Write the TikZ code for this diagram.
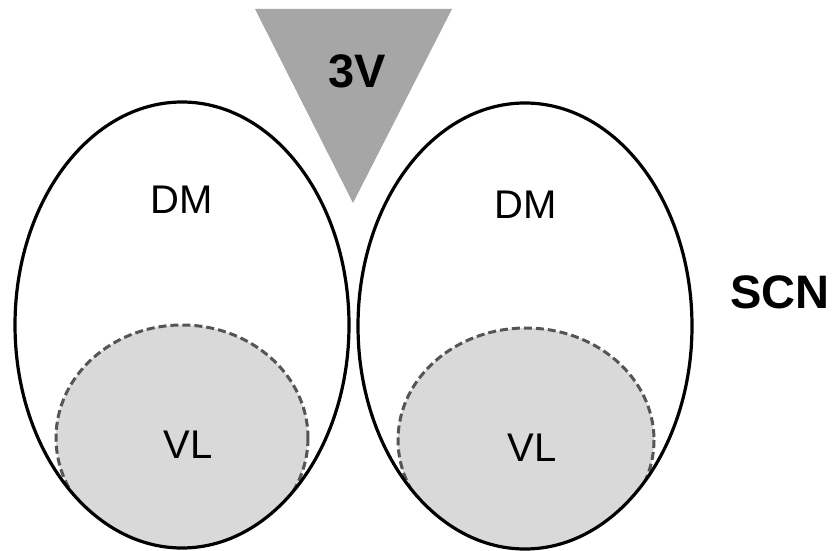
\documentclass[tikz,border=0pt]{standalone}
\usepackage{fontspec}
\setmainfont{Liberation Sans}
\definecolor{ventricle}{HTML}{A6A6A6}
\definecolor{vlfill}{HTML}{D9D9D9}
\definecolor{vledge}{HTML}{555555}
\begin{document}
\begin{tikzpicture}[x=1pt,y=-1pt,
  outline/.style={line width=3.2pt,black},
  core/.style={line width=3pt,vledge,dash pattern=on 8pt off 4pt},
  region/.style={font=\fontsize{40}{44}\selectfont,inner sep=0pt},
  heading/.style={font=\bfseries\fontsize{47}{50}\selectfont,inner sep=0pt}]
\useasboundingbox (0,0) rectangle (832,551);
% third ventricle
\fill[ventricle] (255,9) -- (452,9) -- (353,203) -- cycle;
\node[heading] (v3) at (357,71) {3V};
% left nucleus: ventrolateral core clipped to the shell
\begin{scope}
  \clip (182,325) ellipse [x radius=167, y radius=223];
  \fill[vlfill] (182,438) ellipse [x radius=126, y radius=113];
  \draw[core] (182,438) ellipse [x radius=126, y radius=113];
\end{scope}
\draw[outline] (182,325) ellipse [x radius=167, y radius=223];
% right nucleus
\begin{scope}
  \clip (525,326) ellipse [x radius=167, y radius=223];
  \fill[vlfill] (526,440) ellipse [x radius=128, y radius=112];
  \draw[core] (526,440) ellipse [x radius=128, y radius=112];
\end{scope}
\draw[outline] (525,326) ellipse [x radius=167, y radius=223];
% labels
\node[region] (dmL) at (182,200) {DM};
\node[region] (dmR) at (526,205) {DM};
\node[region] (vlL) at (188,445) {VL};
\node[region] (vlR) at (532,448) {VL};
\node[heading] (scn) at (780,292) {SCN};
\end{tikzpicture}
\end{document}
